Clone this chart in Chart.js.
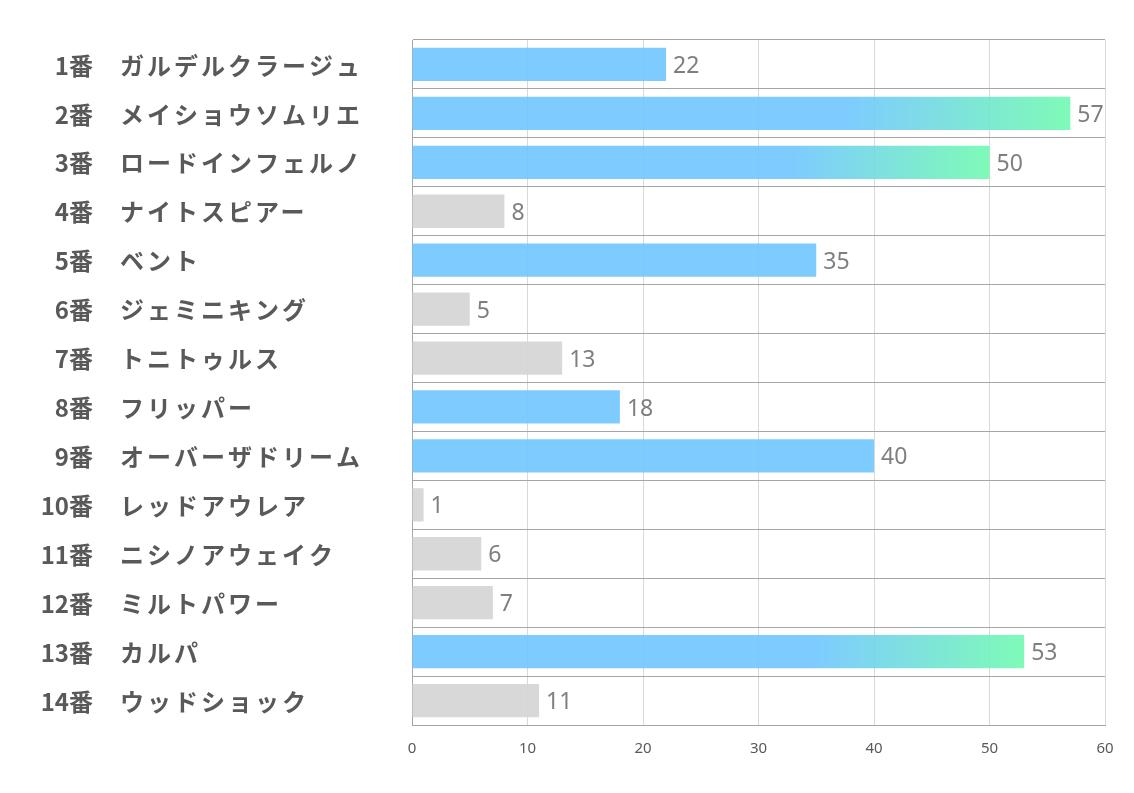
<!DOCTYPE html>
<html>
<head>
<meta charset="utf-8">
<script src="https://cdn.jsdelivr.net/npm/chart.js@4.4.1/dist/chart.umd.min.js"></script>
<style>
html,body{margin:0;padding:0;background:#fff;}
#wrap{width:1134px;height:793px;}
</style>
</head>
<body>
<div id="wrap"><canvas id="c" width="1134" height="793"></canvas></div>
<script>
const numbers = ['1番','2番','3番','4番','5番','6番','7番','8番','9番','10番','11番','12番','13番','14番'];
const horses = ['ガルデルクラージュ','メイショウソムリエ','ロードインフェルノ','ナイトスピアー','ベント','ジェミニキング','トニトゥルス','フリッパー','オーバーザドリーム','レッドアウレア','ニシノアウェイク','ミルトパワー','カルパ','ウッドショック'];
const values = [22,57,50,8,35,5,13,18,40,1,6,7,53,11];
const xTicks = [0,10,20,30,40,50,60];

const BLUE = 'rgba(112,198,255,0.9)';
const GREEN = 'rgba(112,250,176,0.9)';
const GRAY = 'rgba(214,214,214,0.95)';
const top3 = [...values].sort((a,b)=>b-a).slice(0,3);

function barColor(ctx){
  const i = ctx.dataIndex;
  const v = values[i];
  if (v < 15) return GRAY;
  if (!top3.includes(v)) return BLUE;
  const chart = ctx.chart;
  if (!chart.chartArea) return BLUE;
  const xs = chart.scales.x;
  const x0 = xs.getPixelForValue(0), x1 = xs.getPixelForValue(v);
  const g = chart.ctx.createLinearGradient(x0 + 0.66*(x1-x0), 0, x1, 0);
  g.addColorStop(0, BLUE);
  g.addColorStop(1, GREEN);
  return g;
}

const labelPlugin = {
  id:'labels',
  afterDatasetsDraw(chart){
    const c = chart.ctx, ys = chart.scales.y, xs = chart.scales.x;
    c.save();
    c.textBaseline = 'middle';
    horses.forEach((h,i)=>{
      const y = ys.getPixelForValue(i) + 1;
      c.font = 'bold 24px "Noto Sans CJK JP", "Noto Sans", sans-serif';
      c.fillStyle = '#595959';
      c.letterSpacing = '0px';
      c.textAlign = 'right';
      c.fillText(numbers[i], 93, y);
      c.textAlign = 'left';
      c.letterSpacing = '3px';
      c.fillText(h, 120, y);
      c.letterSpacing = '0px';
      c.font = '23px "Noto Sans", "Open Sans", sans-serif';
      c.fillStyle = '#7f7f7f';
      c.fillText(String(values[i]), xs.getPixelForValue(values[i]) + 7, y + 1);
    });
    c.restore();
  }
};

new Chart(document.getElementById('c'), {
  type:'bar',
  data:{
    labels: horses,
    datasets:[{data: values, backgroundColor: barColor, barPercentage:0.68, categoryPercentage:1, borderWidth:0}]
  },
  options:{
    indexAxis:'y',
    responsive:false,
    animation:false,
    layout:{padding:{top:40,right:29,left:0,bottom:0}},
    plugins:{legend:{display:false},tooltip:{enabled:false}},
    scales:{
      x:{
        min:0,max:60,
        afterBuildTicks(s){ s.ticks = xTicks.map(v=>({value:v})); },
        afterFit(s){ s.height = 793-725; },
        grid:{color:'#d9d9d9',drawTicks:false,lineWidth:1},
        border:{color:'#a6a6a6',width:1},
        ticks:{padding:15,color:'#595959',font:{size:15,family:'"Noto Sans", sans-serif'}}
      },
      y:{
        afterFit(s){ s.width = 412; },
        grid:{color:'#a6a6a6',drawTicks:false,offset:true},
        border:{color:'#a6a6a6',width:1},
        ticks:{display:false}
      }
    }
  },
  plugins:[labelPlugin]
});
</script>
</body>
</html>
